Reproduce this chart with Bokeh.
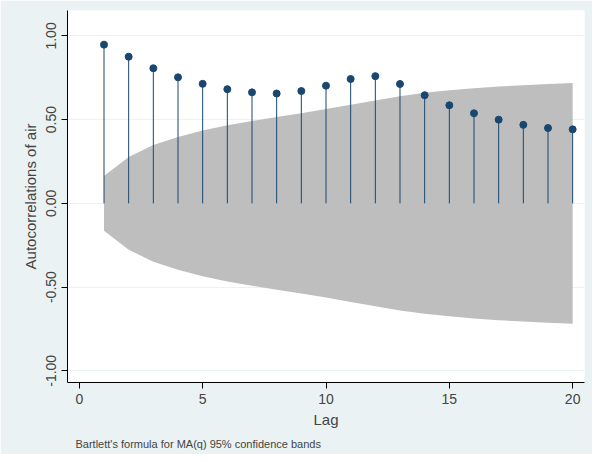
from bokeh.plotting import figure
from bokeh.models import ColumnDataSource, Range1d, NumeralTickFormatter, FixedTicker, Title
from bokeh.embed import file_html
from bokeh.resources import INLINE

lags = list(range(1, 21))
acf = [0.948, 0.876, 0.807, 0.753, 0.714, 0.682, 0.663, 0.656, 0.671, 0.703,
       0.743, 0.760, 0.713, 0.646, 0.586, 0.538, 0.500, 0.469, 0.450, 0.442]
band = [0.163, 0.277, 0.349, 0.397, 0.435, 0.466, 0.492, 0.516, 0.539, 0.563,
        0.589, 0.615, 0.640, 0.660, 0.675, 0.688, 0.698, 0.706, 0.713, 0.719]

src = ColumnDataSource(dict(lag=lags, acf=acf, zero=[0] * 20,
                            up=band, lo=[-b for b in band]))

p = figure(width=592, height=454, output_backend="svg", toolbar_location=None,
           x_range=Range1d(-0.48, 20.48), y_range=Range1d(-1.07, 1.152),
           min_border_left=67, min_border_right=8, min_border_top=10, min_border_bottom=71)
p.background_fill_color = "white"
p.border_fill_color = "#eaf2f3"
p.outline_line_color = None

p.varea(x="lag", y1="lo", y2="up", source=src, fill_color="#bebebe")
p.segment(x0="lag", y0="zero", x1="lag", y1="acf", source=src, line_color="#1a476f", line_width=1)
p.scatter(x="lag", y="acf", source=src, size=7, fill_color="#1a476f", line_color="#1a476f")

p.xgrid.visible = False
p.ygrid.grid_line_color = "#eaf2f3"
p.ygrid.ticker = FixedTicker(ticks=[-1, -0.5, 0, 0.5, 1])
p.yaxis.ticker = FixedTicker(ticks=[-1, -0.5, 0, 0.5, 1])
p.xaxis.ticker = FixedTicker(ticks=[0, 5, 10, 15, 20])
p.yaxis.formatter = NumeralTickFormatter(format="0.00")
p.yaxis.major_label_orientation = "vertical"
p.xaxis.axis_label = "Lag"
p.yaxis.axis_label = "Autocorrelations of air"
for ax in (p.xaxis, p.yaxis):
    ax.minor_tick_line_color = None
    ax.axis_label_text_font_style = "normal"
    ax.axis_label_text_font = "Liberation Sans"
    ax.major_label_text_font = "Liberation Sans"
    ax.axis_label_text_font_size = "15px"
    ax.major_label_text_font_size = "14px"
    ax.axis_line_color = "black"
    ax.major_tick_line_color = "black"
    ax.major_tick_out = 6
    ax.major_tick_in = 0
p.xaxis.axis_label_standoff = 4

p.add_layout(Title(text="Bartlett's formula for MA(q) 95% confidence bands",
                   text_font="Liberation Sans", text_font_size="11px",
                   text_font_style="normal", offset=8), "below")

open("out.html", "w").write(file_html(p, INLINE))
